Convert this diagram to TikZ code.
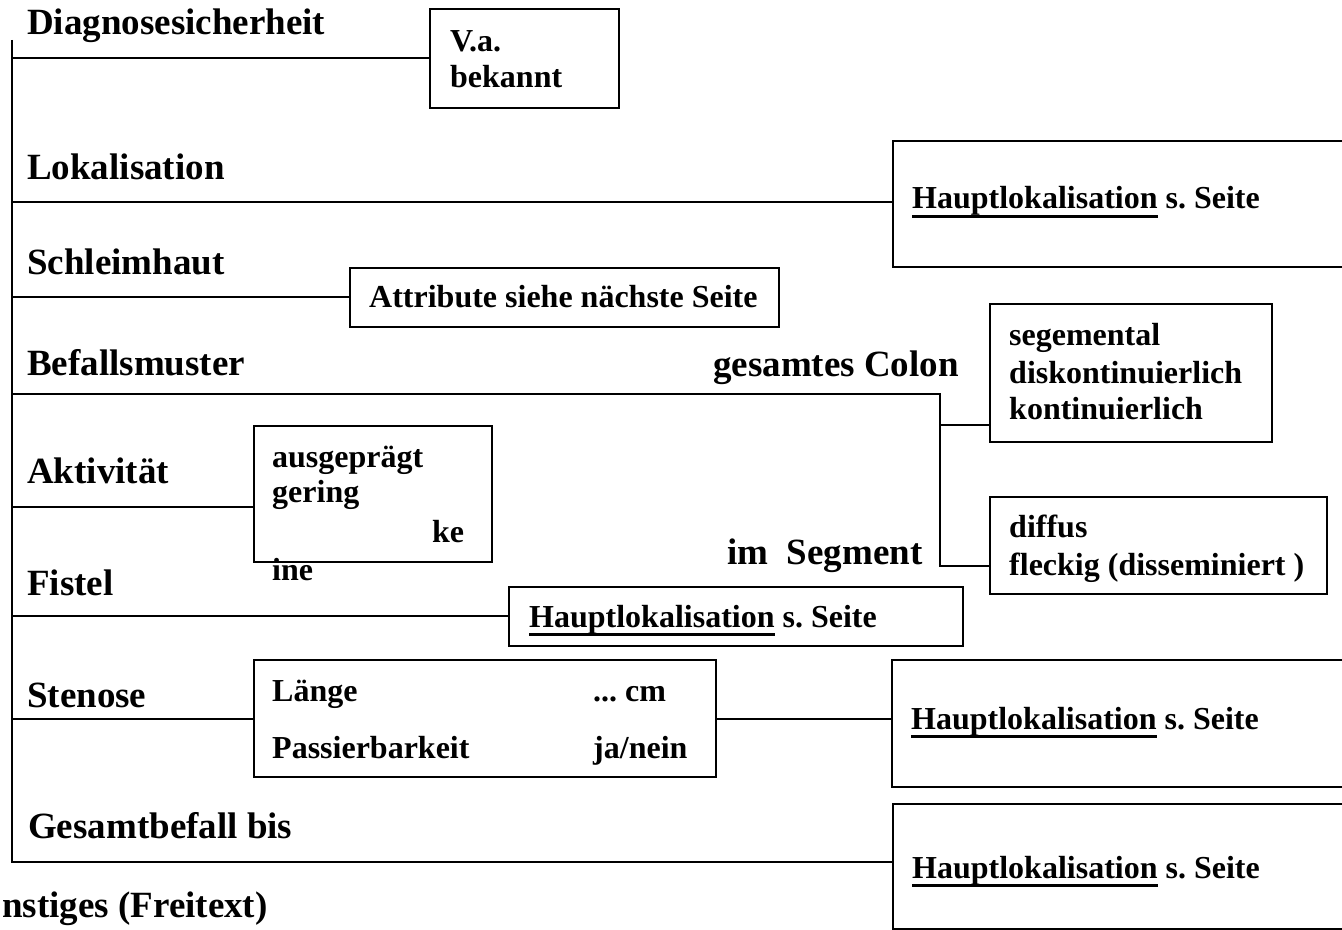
\documentclass[tikz,border=0pt]{standalone}
\usepackage{fontspec}
\setmainfont{Liberation Serif}
\newcommand\ulx[1]{\setbox0\hbox{#1}\rlap{\rule[-0.27em]{\wd0}{0.09em}}\box0\relax}
\begin{document}
\frenchspacing
\begin{tikzpicture}[x=0.75pt,y=-0.75pt, line width=1.8pt,
 lab/.style={anchor=base west, inner sep=0pt, font=\fontsize{27.75}{30}\selectfont\bfseries},
 txt/.style={anchor=base west, inner sep=0pt, font=\fontsize{24}{26}\selectfont\bfseries},
 box/.style={draw, rectangle, inner sep=0pt, anchor=north west, line width=1.8pt}]
\useasboundingbox (0,0) rectangle (1342,930);
% boxes
\node[box, minimum width=189*0.75pt, minimum height=99*0.75pt] (va) at (429,8) {};
\node[box, minimum width=470*0.75pt, minimum height=126*0.75pt] (lok) at (892,140) {};
\node[box, minimum width=429*0.75pt, minimum height=59*0.75pt] (attr) at (349,267) {};
\node[box, minimum width=282*0.75pt, minimum height=138*0.75pt] (seg) at (989,303) {};
\node[box, minimum width=238*0.75pt, minimum height=136*0.75pt] (akt) at (253,425) {};
\node[box, minimum width=337*0.75pt, minimum height=97*0.75pt] (dif) at (989,496) {};
\node[box, minimum width=454*0.75pt, minimum height=59*0.75pt] (fis) at (508,586) {};
\node[box, minimum width=462*0.75pt, minimum height=117*0.75pt] (sten) at (253,659) {};
\node[box, minimum width=470*0.75pt, minimum height=127*0.75pt] (stenh) at (891,659) {};
\node[box, minimum width=470*0.75pt, minimum height=125*0.75pt] (ges) at (892,803) {};
% connectors
\coordinate (top) at (12,40);
\coordinate (bot) at (12,862);
\draw (top) -- (bot) -- (bot -| ges.west);
\coordinate (d0) at (12,58);   \draw (d0) -- (d0 -| va.west);
\coordinate (l0) at (12,202);  \draw (l0) -- (l0 -| lok.west);
\coordinate (a0) at (12,297);  \draw (a0) -- (a0 -| attr.west);
\coordinate (b0) at (12,394);
\coordinate (bj) at (940,394);
\coordinate (bj2) at (940,566);
\coordinate (bk) at (940,425);
\draw (b0) -- (bj) -- (bj2) -- (bj2 -| dif.west);
\draw (bk) -- (bk -| seg.west);
\coordinate (k0) at (12,507);  \draw (k0) -- (k0 -| akt.west);
\coordinate (f0) at (12,616);  \draw (f0) -- (f0 -| fis.west);
\coordinate (s0) at (12,719);  \draw (s0) -- (s0 -| sten.west);
\draw (s0 -| sten.east) -- (s0 -| stenh.west);
% labels
\node[lab] (tdiag) at (26,35) {Diagnosesicherheit};
\node[lab] (tlok) at (26,180) {Lokalisation};
\node[lab] (tschl) at (26,275) {Schleimhaut};
\node[lab] (tbef) at (26,376) {Befallsmuster};
\node[lab] (tgc) at (712,377) {gesamtes Colon};
\node[lab] (tims) at (726,564) {im\ \ Segment};
\node[lab] (takt) at (26,483) {Aktivität};
\node[lab] (tfis) at (26,595) {Fistel};
\node[lab] (tsten) at (26,707) {Stenose};
\node[lab] (tges) at (27,838) {Gesamtbefall bis};
\node[lab] (tsonst) at (1,917) {nstiges (Freitext)};
% box texts
\node[txt] (va1) at (449,52) {V.a.};
\node[txt] (va2) at (449,88) {bekannt};
\node[txt] (lok1) at (911,209) {\ulx{Hauptlokalisation} s. Seite};
\node[txt] (attr1) at (368,308) {Attribute siehe nächste Seite};
\node[txt] (seg1) at (1008,346) {segemental};
\node[txt] (seg2) at (1008,383) {diskontinuierlich};
\node[txt] (seg3) at (1008,420) {kontinuierlich};
\node[txt] (akt1) at (271,467) {ausgeprägt};
\node[txt] (akt2) at (271,502) {gering};
\node[txt] (akt3) at (431,542) {ke};
\node[txt] (akt4) at (271,580) {ine};
\node[txt] (dif1) at (1008,537) {diffus};
\node[txt] (dif2) at (1008,575) {fleckig (disseminiert )};
\node[txt] (fis1) at (528,627) {\ulx{Hauptlokalisation} s. Seite};
\node[txt] (st1) at (271,701) {Länge};
\node[txt] (st2) at (592,701) {... cm};
\node[txt] (st3) at (271,758) {Passierbarkeit};
\node[txt] (st4) at (592,758) {ja/nein};
\node[txt] (sth1) at (910,729) {\ulx{Hauptlokalisation} s. Seite};
\node[txt] (ges1) at (911,878) {\ulx{Hauptlokalisation} s. Seite};
\end{tikzpicture}
\end{document}
